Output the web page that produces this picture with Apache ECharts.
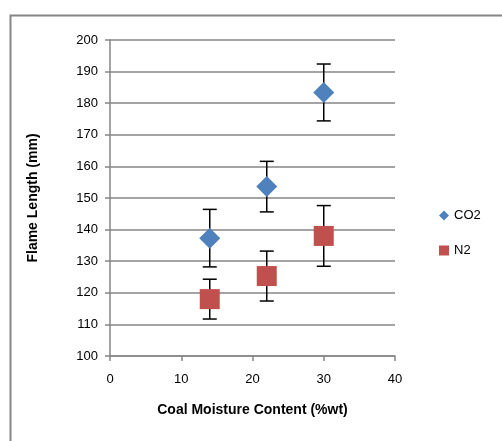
<!DOCTYPE html>
<html>
<head>
<meta charset="utf-8">
<script src="https://cdn.jsdelivr.net/npm/echarts@6/dist/echarts.min.js"></script>
<style>
  html, body { margin: 0; padding: 0; background: #fff; }
  #chart { width: 502px; height: 441px; }
</style>
</head>
<body>
<div id="chart"></div>
<script>
// values
var moisture = [14, 22, 30]
var co2Length = [137.3, 153.6, 183.4]
var co2Err = [9.1, 8.0, 9.0]
var n2Length = [118.0, 125.3, 138.0]
var n2Err = [6.3, 7.9, 9.6]

var fontFamily = 'Liberation Sans, Arial, sans-serif'

function pairs(xs, ys) {
    return xs.map(function (x, i) { return [x, ys[i]] })
}
function errRows(xs, ys, errs) {
    return xs.map(function (x, i) { return [x, ys[i] - errs[i], ys[i] + errs[i]] })
}

function renderErr(params, api) {
    var lo = api.coord([api.value(0), api.value(1)])
    var hi = api.coord([api.value(0), api.value(2)])
    var half = 7
    var style = { stroke: '#000', lineWidth: 1.5 }
    return {
        type: 'group',
        children: [
            { type: 'line', shape: { x1: lo[0], y1: lo[1], x2: hi[0], y2: hi[1] }, style: style },
            { type: 'line', shape: { x1: lo[0] - half, y1: lo[1], x2: lo[0] + half, y2: lo[1] }, style: style },
            { type: 'line', shape: { x1: hi[0] - half, y1: hi[1], x2: hi[0] + half, y2: hi[1] }, style: style }
        ]
    }
}

var chart = echarts.init(document.getElementById('chart'))
var option = {
    animation: false,
    backgroundColor: '#fff',
    graphic: [
        {
            type: 'rect',
            left: 8,
            top: 13,
            shape: { width: 600, height: 600 },
            style: { fill: 'none', stroke: '#868686', lineWidth: 2 },
            silent: true
        }
    ],
    grid: {
        left: 110,
        right: 107,
        top: 40,
        bottom: 85
    },
    legend: {
        orient: 'vertical',
        left: 434,
        top: 204,
        itemGap: 22,
        itemWidth: 10,
        itemHeight: 10,
        textStyle: { fontFamily: fontFamily, fontSize: 13, color: '#000' },
        data: [
            { name: 'CO2', icon: 'diamond' },
            { name: 'N2', icon: 'rect' }
        ]
    },
    xAxis: {
        type: 'value',
        min: 0,
        max: 40,
        interval: 10,
        name: 'Coal Moisture Content (%wt)',
        nameLocation: 'middle',
        nameGap: 47,
        nameTextStyle: { fontFamily: fontFamily, fontSize: 14, fontWeight: 'bold', color: '#000' },
        axisLine: { lineStyle: { color: '#868686', width: 1.5 } },
        axisTick: { show: true, length: 5, lineStyle: { color: '#868686', width: 1.5 } },
        axisLabel: { fontFamily: fontFamily, fontSize: 13, color: '#000', margin: 17 },
        splitLine: { show: false }
    },
    yAxis: {
        type: 'value',
        min: 100,
        max: 200,
        interval: 10,
        name: 'Flame Length (mm)',
        nameLocation: 'middle',
        nameGap: 70,
        nameTextStyle: { fontFamily: fontFamily, fontSize: 14, fontWeight: 'bold', color: '#000' },
        axisLine: { show: true, lineStyle: { color: '#868686', width: 1.5 } },
        axisTick: { show: true, length: 5, lineStyle: { color: '#868686', width: 1.5 } },
        axisLabel: { fontFamily: fontFamily, fontSize: 13, color: '#000', margin: 12 },
        splitLine: { lineStyle: { color: '#868686', width: 1.5 } }
    },
    series: [
        {
            name: 'CO2 err',
            type: 'custom',
            renderItem: renderErr,
            encode: { x: 0, y: [1, 2] },
            data: errRows(moisture, co2Length, co2Err),
            z: 1
        },
        {
            name: 'N2 err',
            type: 'custom',
            renderItem: renderErr,
            encode: { x: 0, y: [1, 2] },
            data: errRows(moisture, n2Length, n2Err),
            z: 1
        },
        {
            name: 'CO2',
            type: 'scatter',
            symbol: 'diamond',
            symbolSize: [21, 21],
            itemStyle: { color: '#4F81BD', opacity: 1 },
            data: pairs(moisture, co2Length),
            z: 3
        },
        {
            name: 'N2',
            type: 'scatter',
            symbol: 'rect',
            symbolSize: 20,
            itemStyle: { color: '#C0504D', opacity: 1 },
            data: pairs(moisture, n2Length),
            z: 3
        }
    ]
}
chart.setOption(option)
</script>
</body>
</html>
